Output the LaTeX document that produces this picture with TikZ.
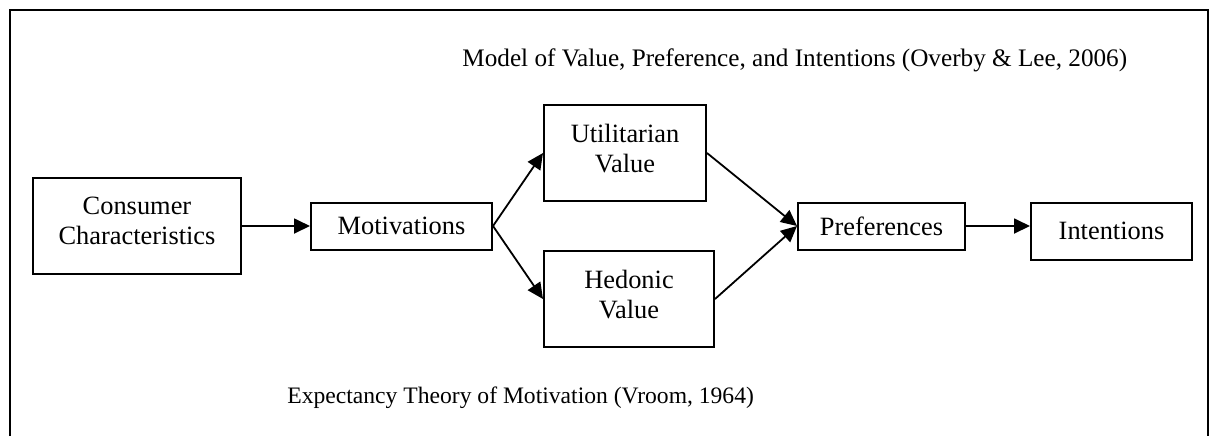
\documentclass[tikz,border=0pt]{standalone}
\usepackage{fontspec}
\setmainfont{Liberation Serif}
\usepackage{tikz}
\usetikzlibrary{arrows.meta,positioning}

\begin{document}
\begin{tikzpicture}[x=0.5pt, y=-0.5pt,
font=\fontsize{13.2}{15}\selectfont,
box/.style={draw, line width=1pt, align=center, inner sep=2pt},
twoline/.style={box, text depth=5pt},
caption/.style={anchor=base west, inner sep=0pt},
arrow/.style={-{Triangle[length=8pt, width=7.5pt]}, line width=0.9pt}
]
\useasboundingbox (0,0) rectangle (1211,436);
\draw[line width=1.1pt] (10,436) -- (10,10) -- (1208,10) -- (1208,436);

\node[caption, font=\fontsize{12.6}{15}\selectfont] (title) at (462,66) {Model of Value, Preference, and Intentions (Overby \& Lee, 2006)};
\node[caption, font=\fontsize{11.8}{15}\selectfont] (theory) at (287,403) {Expectancy Theory of Motivation (Vroom, 1964)};

\node[twoline, minimum width=104pt, minimum height=48pt] (cons) at (137,226) {Consumer\\Characteristics};
\node[box, right=34pt of cons, minimum width=90.5pt, minimum height=23.5pt] (mot) {Motivations};
\node[twoline, above right=12pt and 25pt of mot.east, minimum width=81pt, minimum height=48pt] (util) {Utilitarian\\Value};
\node[twoline, below right=12pt and 25pt of mot.east, minimum width=85pt, minimum height=48pt] (hed) {Hedonic\\Value};
\node[box, right=152pt of mot, minimum width=83.5pt, minimum height=23.5pt] (pref) {Preferences};
\node[box, right=32pt of pref.north east, anchor=north west, minimum width=80.5pt, minimum height=28.5pt] (int) {Intentions};

\draw[arrow] (cons) -- (mot);
\draw[arrow] (mot.east) -- (util.west);
\draw[arrow] (mot.east) -- (hed.west);
\draw[arrow] (util.east) -- (pref.west);
\draw[arrow] (hed.east) -- (pref.west);
\draw[arrow] (pref.east) -- (pref.east -| int.west);
\end{tikzpicture}
\end{document}
